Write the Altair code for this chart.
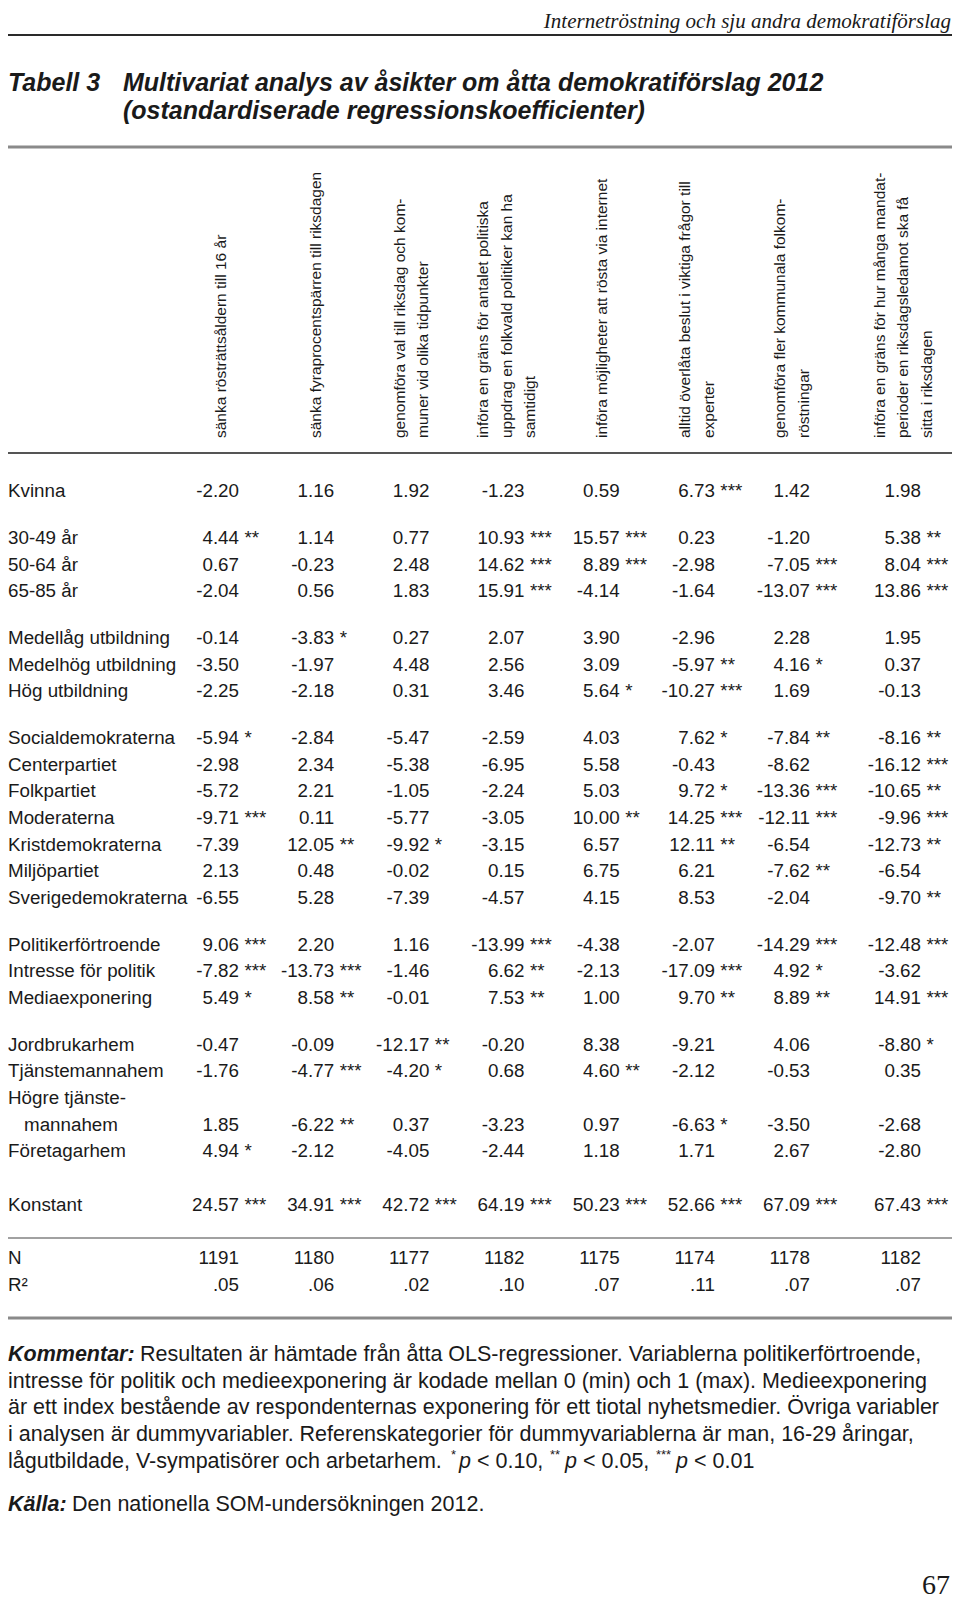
import altair as alt
import pandas as pd

# ---------------- data ----------------
headers = [
    "sänka rösträttsåldern till 16 år",
    "sänka fyraprocentspärren till riksdagen",
    "genomföra val till riksdag och kom-\nmuner vid olika tidpunkter",
    "införa en gräns för antalet politiska\nuppdrag en folkvald politiker kan ha\nsamtidigt",
    "införa möjligheter att rösta via internet",
    "alltid överlåta beslut i viktiga frågor till\nexperter",
    "genomföra fler kommunala folkom-\nröstningar",
    "införa en gräns för hur många mandat-\nperioder  en riksdagsledamot ska få\nsitta i riksdagen",
]

row_labels = [
    "Kvinna", "30-49 år", "50-64 år", "65-85 år",
    "Medellåg utbildning", "Medelhög utbildning", "Hög utbildning",
    "Socialdemokraterna", "Centerpartiet", "Folkpartiet", "Moderaterna",
    "Kristdemokraterna", "Miljöpartiet", "Sverigedemokraterna",
    "Politikerförtroende", "Intresse för politik", "Mediaexponering",
    "Jordbrukarhem", "Tjänstemannahem", "Högre tjänste-\nmannahem", "Företagarhem",
    "Konstant",
]
row_groups = [0, 1, 1, 1, 2, 2, 2, 3, 3, 3, 3, 3, 3, 3, 4, 4, 4, 5, 5, 5, 5, 6]

c1 = [-2.20, 4.44, 0.67, -2.04, -0.14, -3.50, -2.25, -5.94, -2.98, -5.72, -9.71, -7.39, 2.13, -6.55, 9.06, -7.82, 5.49, -0.47, -1.76, 1.85, 4.94, 24.57]
s1 = [0, 2, 0, 0, 0, 0, 0, 1, 0, 0, 3, 0, 0, 0, 3, 3, 1, 0, 0, 0, 1, 3]
c2 = [1.16, 1.14, -0.23, 0.56, -3.83, -1.97, -2.18, -2.84, 2.34, 2.21, 0.11, 12.05, 0.48, 5.28, 2.20, -13.73, 8.58, -0.09, -4.77, -6.22, -2.12, 34.91]
s2 = [0, 0, 0, 0, 1, 0, 0, 0, 0, 0, 0, 2, 0, 0, 0, 3, 2, 0, 3, 2, 0, 3]
c3 = [1.92, 0.77, 2.48, 1.83, 0.27, 4.48, 0.31, -5.47, -5.38, -1.05, -5.77, -9.92, -0.02, -7.39, 1.16, -1.46, -0.01, -12.17, -4.20, 0.37, -4.05, 42.72]
s3 = [0, 0, 0, 0, 0, 0, 0, 0, 0, 0, 0, 1, 0, 0, 0, 0, 0, 2, 1, 0, 0, 3]
c4 = [-1.23, 10.93, 14.62, 15.91, 2.07, 2.56, 3.46, -2.59, -6.95, -2.24, -3.05, -3.15, 0.15, -4.57, -13.99, 6.62, 7.53, -0.20, 0.68, -3.23, -2.44, 64.19]
s4 = [0, 3, 3, 3, 0, 0, 0, 0, 0, 0, 0, 0, 0, 0, 3, 2, 2, 0, 0, 0, 0, 3]
c5 = [0.59, 15.57, 8.89, -4.14, 3.90, 3.09, 5.64, 4.03, 5.58, 5.03, 10.00, 6.57, 6.75, 4.15, -4.38, -2.13, 1.00, 8.38, 4.60, 0.97, 1.18, 50.23]
s5 = [0, 3, 3, 0, 0, 0, 1, 0, 0, 0, 2, 0, 0, 0, 0, 0, 0, 0, 2, 0, 0, 3]
c6 = [6.73, 0.23, -2.98, -1.64, -2.96, -5.97, -10.27, 7.62, -0.43, 9.72, 14.25, 12.11, 6.21, 8.53, -2.07, -17.09, 9.70, -9.21, -2.12, -6.63, 1.71, 52.66]
s6 = [3, 0, 0, 0, 0, 2, 3, 1, 0, 1, 3, 2, 0, 0, 0, 3, 2, 0, 0, 1, 0, 3]
c7 = [1.42, -1.20, -7.05, -13.07, 2.28, 4.16, 1.69, -7.84, -8.62, -13.36, -12.11, -6.54, -7.62, -2.04, -14.29, 4.92, 8.89, 4.06, -0.53, -3.50, 2.67, 67.09]
s7 = [0, 0, 3, 3, 0, 1, 0, 2, 0, 3, 3, 0, 2, 0, 3, 1, 2, 0, 0, 0, 0, 3]
c8 = [1.98, 5.38, 8.04, 13.86, 1.95, 0.37, -0.13, -8.16, -16.12, -10.65, -9.96, -12.73, -6.54, -9.70, -12.48, -3.62, 14.91, -8.80, 0.35, -2.68, -2.80, 67.43]
s8 = [0, 2, 3, 3, 0, 0, 0, 2, 3, 2, 3, 2, 0, 2, 3, 0, 3, 1, 0, 0, 0, 3]

n_obs = [1191, 1180, 1177, 1182, 1175, 1174, 1178, 1182]
r2 = [0.05, 0.06, 0.02, 0.10, 0.07, 0.11, 0.07, 0.07]

coef_cols = [c1, c2, c3, c4, c5, c6, c7, c8]
star_cols = [s1, s2, s3, s4, s5, s6, s7, s8]

# ---------------- layout constants ----------------
W, H = 944, 1593
BODY = "Liberation Sans"
SERIF = "Liberation Serif"
FS = 18.8
NOTE = 21.5
HEAD_LH = 23.5
INK = "#1a1a1a"
group_gap = {1: 0.75, 2: 0.75, 3: 0.75, 4: 0.75, 5: 0.75, 6: 1.0, 7: 1.0}

# ---------------- build tables ----------------
label_rows, cell_rows = [], []
u = 0.0
prev = 0
value_u = []
for lab, g in zip(row_labels, row_groups):
    if g != prev:
        u += group_gap[g]
        prev = g
    if "\n" in lab:
        first, second = lab.split("\n")
        label_rows.append({"label": first, "u": u, "indent": 0})
        u += 1
        label_rows.append({"label": second, "u": u, "indent": 1})
    else:
        label_rows.append({"label": lab, "u": u, "indent": 0})
    value_u.append(u)
    u += 1

for j in range(8):
    for i in range(len(row_labels)):
        cell_rows.append({"col": j, "u": value_u[i],
                          "num": f"{coef_cols[j][i]:.2f}",
                          "stars": "*" * star_cols[j][i]})

u += group_gap[7]
label_rows.append({"label": "N", "u": u, "indent": 0})
label_rows.append({"label": "R²", "u": u + 1, "indent": 0})
for j in range(8):
    cell_rows.append({"col": j, "u": u, "num": str(n_obs[j]), "stars": ""})
    cell_rows.append({"col": j, "u": u + 1, "num": f"{r2[j]:.2f}"[1:], "stars": ""})

labels_df = pd.DataFrame(label_rows)
cells_df = pd.DataFrame(cell_rows)
head_df = pd.DataFrame({"col": list(range(8)), "text": headers,
                        "n": [h.count("\n") + 1 for h in headers]})

xs = alt.Scale(domain=[0, 6, 7], range=[231, 802, 913], nice=False, zero=False)
ys = alt.Scale(domain=[0, u + 1], range=[483.3, 483.3 + 26.67 * (u + 1)], nice=False, zero=False)

X = lambda: alt.X("col:Q", scale=xs, axis=None)
Y = lambda: alt.Y("u:Q", scale=ys, axis=None)

nums = alt.Chart(cells_df).mark_text(
    align="right", baseline="middle", font=BODY, fontSize=FS, color=INK
).encode(x=X(), y=Y(), text="num:N")

stars = alt.Chart(cells_df).mark_text(
    align="left", baseline="middle", font=BODY, fontSize=FS, color=INK, dx=5.5
).encode(x=X(), y=Y(), text="stars:N")

labels = alt.Chart(labels_df[labels_df["indent"] == 0]).mark_text(
    align="left", baseline="middle", font=BODY, fontSize=FS, color=INK
).encode(x=alt.value(0), y=Y(), text="label:N")

labels_indented = alt.Chart(labels_df[labels_df["indent"] == 1]).mark_text(
    align="left", baseline="middle", font=BODY, fontSize=FS, color=INK, dx=16
).encode(x=alt.value(0), y=Y(), text="label:N")

# one header layer per line count, so each block is centred on its column
head_layers = []
for n in sorted(head_df["n"].unique()):
    head_layers.append(
        alt.Chart(head_df[head_df["n"] == n]).mark_text(
            angle=270, align="left", baseline="middle", font=BODY, fontSize=15.5,
            lineBreak="\n", lineHeight=HEAD_LH, color=INK,
            dy=-18 - (n - 1) * HEAD_LH / 2
        ).encode(x=X(), y=alt.value(430), text="text:N")
    )


def rule(y, color, sw, x0=0, x1=W):
    return alt.Chart(pd.DataFrame({"a": [0]})).mark_rule(color=color, strokeWidth=sw).encode(
        x=alt.value(x0), x2=alt.value(x1), y=alt.value(y))


def txt(s, x, y, size, font=BODY, style="normal", weight="normal", align="left",
        baseline="alphabetic", color=INK):
    return alt.Chart(pd.DataFrame({"t": [s]})).mark_text(
        align=align, baseline=baseline, font=font, fontSize=size, fontStyle=style,
        fontWeight=weight, color=color
    ).encode(x=alt.value(x), y=alt.value(y), text="t:N")


L5 = 1453.5
SUP = L5 - 6.5
layers = [
    rule(27, "#2a2a2a", 2),
    rule(139, "#8a8a8a", 3),
    rule(445, "#555555", 2),
    rule(1230, "#444444", 1.2),
    rule(1310, "#8a8a8a", 3),
    txt("Internetröstning och sju andra demokratiförslag", W - 1, 19.5, 21, font=SERIF,
        style="italic", align="right"),
    txt("Tabell 3", 0, 83, 25, style="italic", weight="bold"),
    txt("Multivariat analys av åsikter om åtta demokratiförslag 2012", 115, 83, 25,
        style="italic", weight="bold"),
    txt("(ostandardiserade regressionskoefficienter)", 115, 111, 25,
        style="italic", weight="bold"),
    *head_layers, labels, labels_indented, nums, stars,
    # footnote
    txt("Kommentar:", 0, 1347, NOTE, style="italic", weight="bold", baseline="middle"),
    txt("Resultaten är hämtade från åtta OLS-regressioner. Variablerna politikerförtroende,",
        132, 1347, NOTE, baseline="middle"),
    txt("intresse för politik och medieexponering är kodade mellan 0 (min) och 1 (max). Medieexponering",
        0, 1373.5, NOTE, baseline="middle"),
    txt("är ett index bestående av respondenternas exponering för ett tiotal nyhetsmedier. Övriga variabler",
        0, 1400, NOTE, baseline="middle"),
    txt("i analysen är dummyvariabler. Referenskategorier för dummyvariablerna är man, 16-29 åringar,",
        0, 1427, NOTE, baseline="middle"),
    txt("lågutbildade, V-sympatisörer och arbetarhem.", 0, L5, NOTE, baseline="middle"),
    txt("*", 443, SUP, 13, baseline="middle"),
    txt("p", 451, L5, NOTE, style="italic", baseline="middle"),
    txt("< 0.10,", 469, L5, NOTE, baseline="middle"),
    txt("**", 542, SUP, 13, baseline="middle"),
    txt("p", 557, L5, NOTE, style="italic", baseline="middle"),
    txt("< 0.05,", 575, L5, NOTE, baseline="middle"),
    txt("***", 648, SUP, 13, baseline="middle"),
    txt("p", 668, L5, NOTE, style="italic", baseline="middle"),
    txt("< 0.01", 686, L5, NOTE, baseline="middle"),
    txt("Källa:", 0, 1497, NOTE, style="italic", weight="bold", baseline="middle"),
    txt("Den nationella SOM-undersökningen 2012.", 64, 1497, NOTE, baseline="middle"),
    txt("67", W - 2, 1586, 28, font=SERIF, align="right"),
]

chart = alt.layer(*layers).properties(
    width=W, height=H, padding=0, background="white",
    autosize=alt.AutoSizeParams(type="none")
).configure_view(stroke=None)

chart.save("out.html", embed_options={"renderer": "svg", "actions": False})
